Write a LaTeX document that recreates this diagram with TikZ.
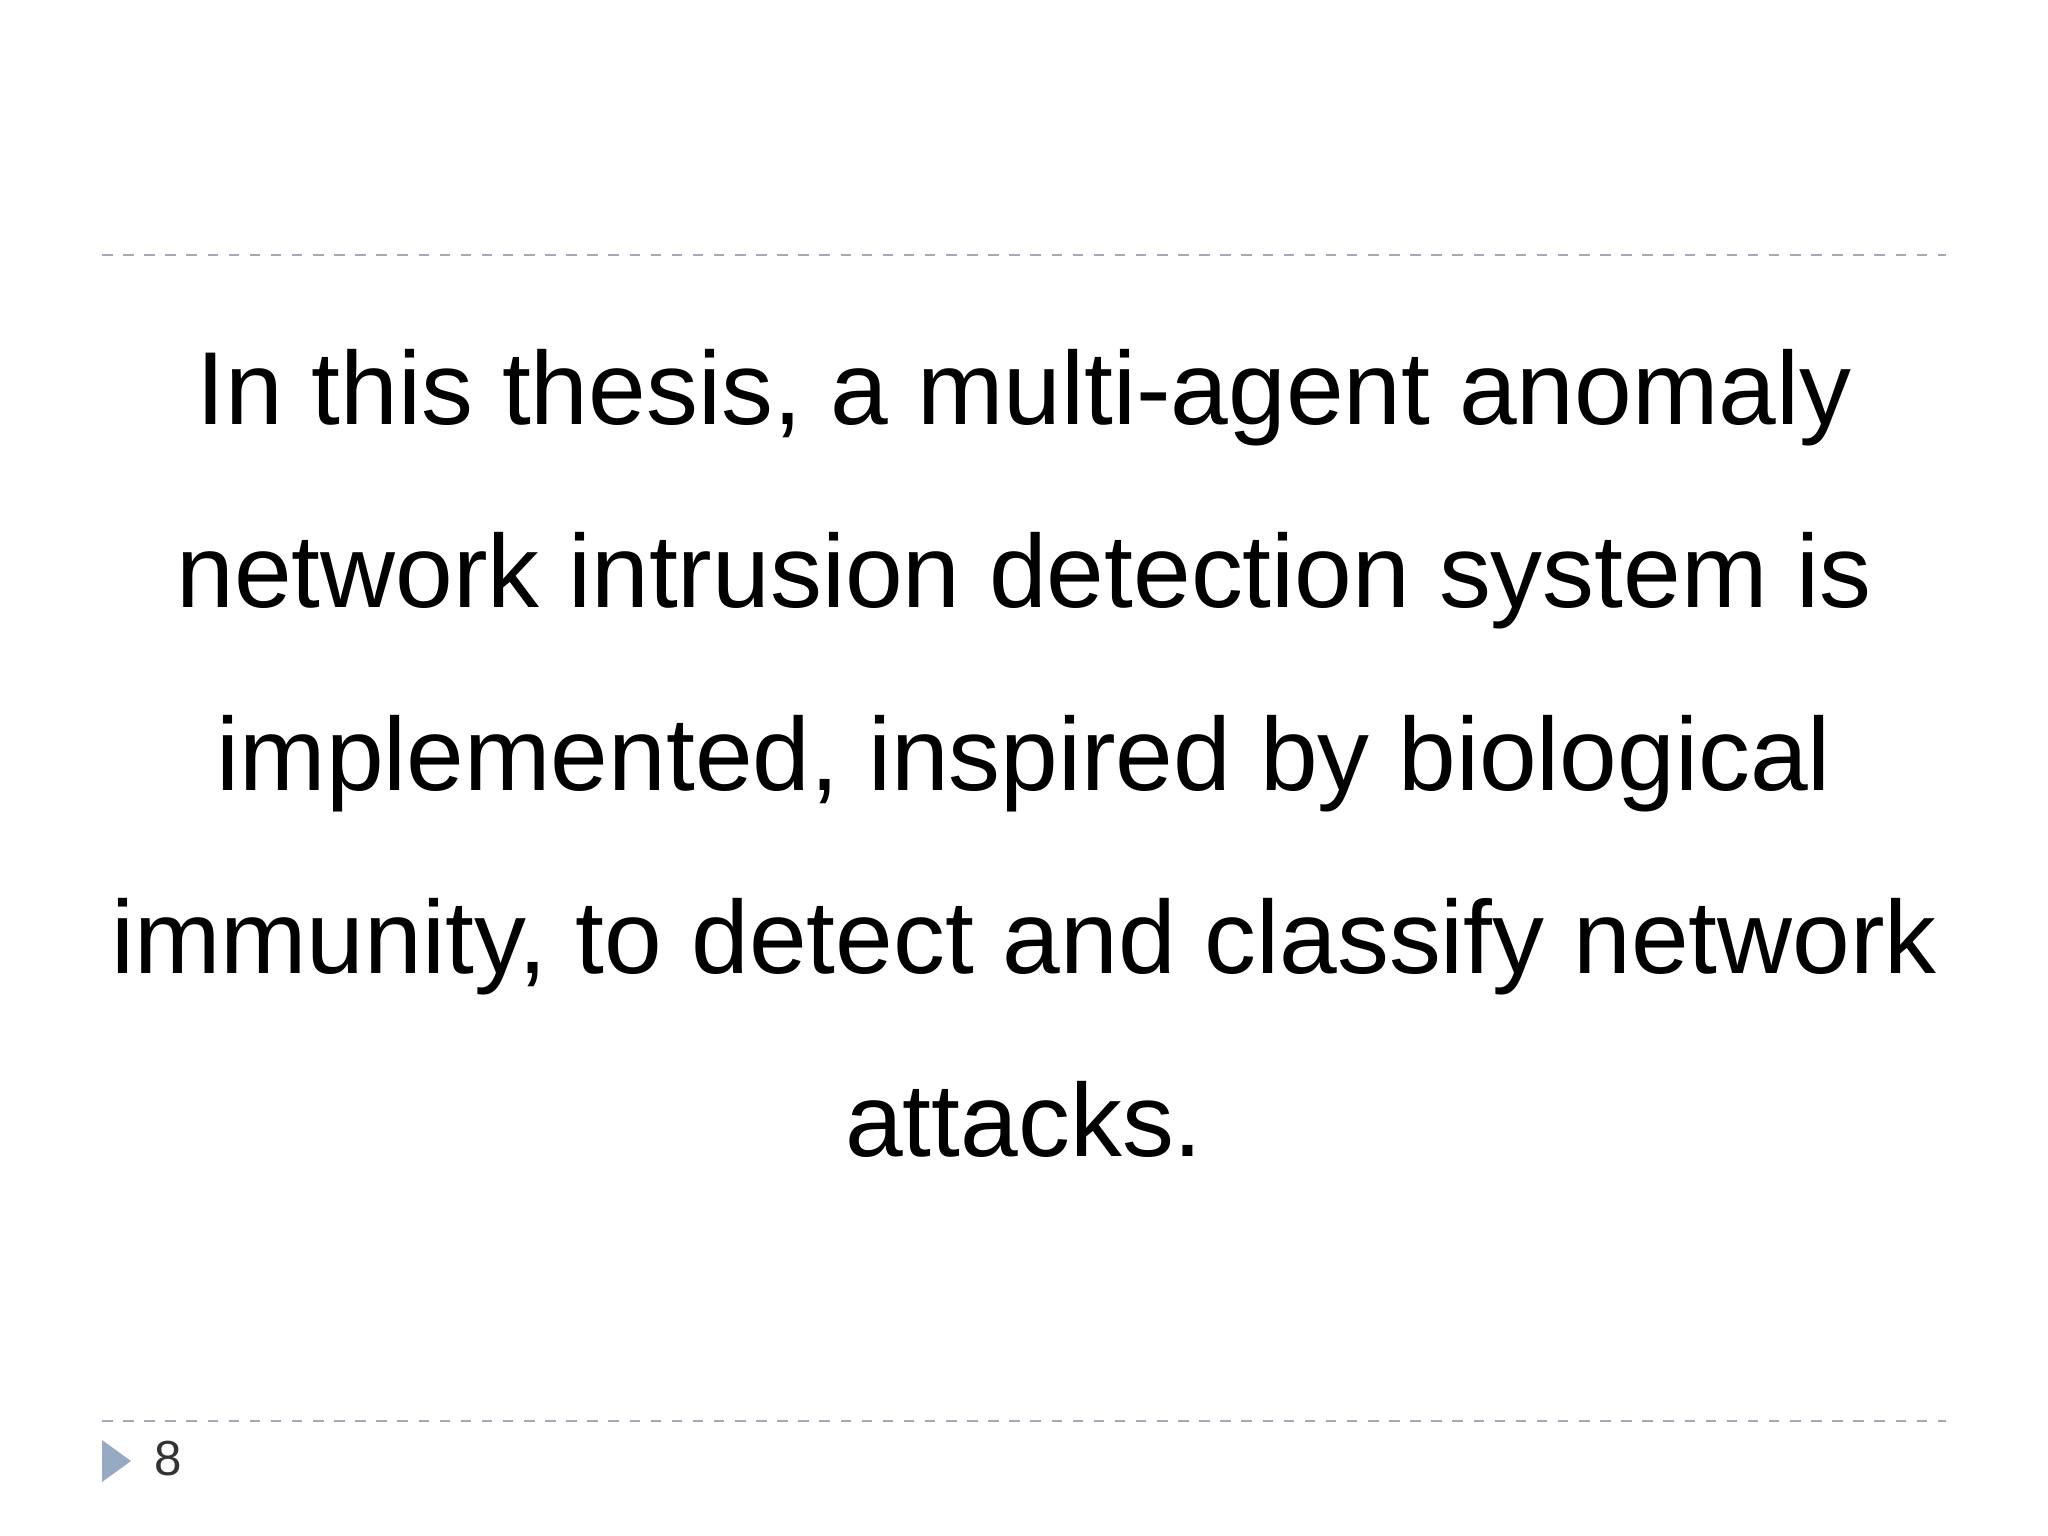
\documentclass[tikz,border=0pt]{standalone}
\usepackage{fontspec}
\setmainfont{Liberation Sans}
\begin{document}
\begin{tikzpicture}[x=0.01cm,y=-0.01cm,
  rule/.style={draw=black!25!blue!15!gray!60, dashed, line width=0.7pt},
  body/.style={anchor=base, font=\fontsize{29.5}{36}\selectfont, inner sep=0pt}]
\useasboundingbox (0,0) rectangle (2048,1536);
\draw[rule] (102,255) -- (1946,255);
\draw[rule] (102,1421) -- (1946,1421);
\node[body] (l1) at (1024,424) {In this thesis, a multi-agent anomaly};
\node[body] (l2) at (1024,607) {network intrusion detection system is};
\node[body] (l3) at (1024,790) {implemented, inspired by biological};
\node[body] (l4) at (1024,973) {immunity, to detect and classify network};
\node[body] (l5) at (1024,1156) {attacks.};
\fill[fill={rgb,255:red,150;green,170;blue,195}] (102,1440) -- (131,1461) -- (102,1482) -- cycle;
\node[font=\fontsize{14}{16}\selectfont, text=black!80] (pg) at (168,1459) {8};
\end{tikzpicture}
\end{document}
